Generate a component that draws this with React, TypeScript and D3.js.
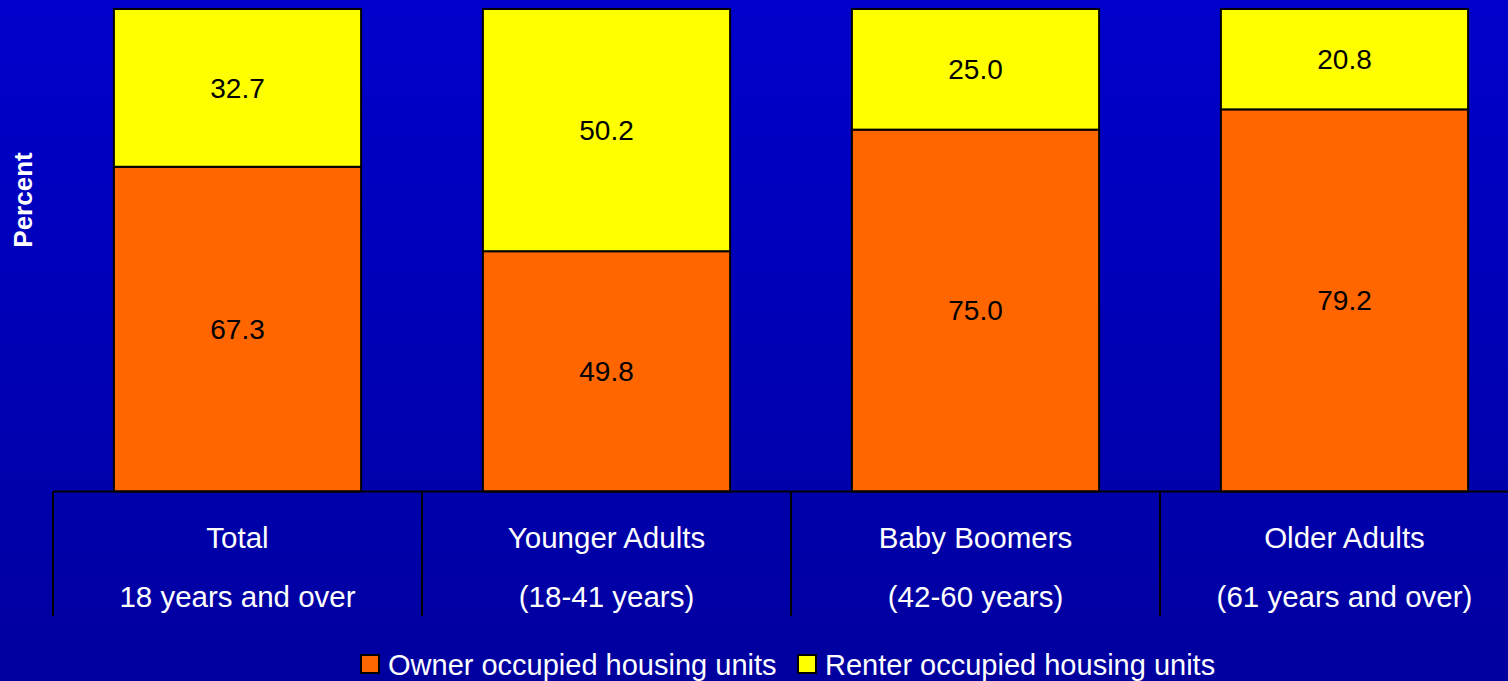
import * as d3 from "d3";
import React from "react";

const groups = ["Total", "Younger Adults", "Baby Boomers", "Older Adults"];
const groupRanges = ["18 years and over", "(18-41 years)", "(42-60 years)", "(61 years and over)"];
const seriesNames = ["Owner occupied housing units", "Renter occupied housing units"];
const ownerValues = [67.3, 49.8, 75.0, 79.2];
const renterValues = [32.7, 50.2, 25.0, 20.8];
const seriesColors = ["#ff6600", "#ffff00"];

const width = 1508;
const height = 681;
const font = "'Liberation Sans', Arial, sans-serif";

const App = () => {
    const rows = groups.map((g, i) => ({group: g, owner: ownerValues[i], renter: renterValues[i]}));
    const stacked = d3.stack().keys(["owner", "renter"])(rows as any);

    // bands run past the right edge, as in the original
    const x = d3.scaleBand().domain(groups).range([53, 1529]).padding(0);
    const barW = x.bandwidth() * 0.67;
    const y = d3.scaleLinear().domain([0, 100]).range([491.5, 9]);

    const color = d3.scaleOrdinal<string>().domain(["owner", "renter"]).range(seriesColors);

    return (
        <svg width={width} height={height} style={{position: "fixed", left: 0, top: 0, display: "block"}}
             fontFamily={font}>
            <defs>
                <linearGradient id="bg" x1="0" y1="0" x2="0" y2="1">
                    <stop offset="0" stopColor="#0000cc"/>
                    <stop offset="1" stopColor="#00009f"/>
                </linearGradient>
            </defs>
            <rect width={width} height={height} fill="url(#bg)"/>

            <text transform={`translate(32,${(152 + 248) / 2}) rotate(-90)`} textAnchor="middle"
                  fill="#fff" fontWeight="bold" fontSize={26}>Percent</text>

            {stacked.map(s => (
                <g key={s.key}>
                    {s.map((d, i) => {
                        const cx = x(groups[i])! + x.bandwidth() / 2;
                        const y0 = y(d[1]);
                        const y1 = y(d[0]);
                        const v = d[1] - d[0];
                        return (
                            <g key={i}>
                                <rect x={cx - barW / 2} y={y0} width={barW} height={y1 - y0}
                                      fill={color(s.key)} stroke="#000" strokeWidth={2}/>
                                <text x={cx} y={(y0 + y1) / 2} dy="0.35em" textAnchor="middle"
                                      fontSize={28} fill="#000">{v.toFixed(1)}</text>
                            </g>
                        );
                    })}
                </g>
            ))}

            {/* category axis */}
            <line x1={53} x2={width} y1={491.5} y2={491.5} stroke="#000" strokeWidth={2}/>
            {groups.map((g, i) => {
                const x0 = x(g)!;
                const cx = x0 + x.bandwidth() / 2;
                return (
                    <g key={g}>
                        <line x1={x0} x2={x0} y1={491.5} y2={616} stroke="#000" strokeWidth={2}/>
                        <text x={cx} y={548} textAnchor="middle" fill="#fff" fontSize={29.5}>{g}</text>
                        <text x={cx} y={607} textAnchor="middle" fill="#fff" fontSize={29.5}>{groupRanges[i]}</text>
                    </g>
                );
            })}

            {/* legend */}
            {seriesNames.map((name, i) => {
                const lx = i === 0 ? 361 : 798;
                return (
                    <g key={name} transform={`translate(${lx},655)`}>
                        <rect width={18} height={18} fill={seriesColors[i]} stroke="#000" strokeWidth={2}/>
                        <text x={27} y={20} fill="#fff" fontSize={29}>{name}</text>
                    </g>
                );
            })}
        </svg>
    );
};

export default App;
